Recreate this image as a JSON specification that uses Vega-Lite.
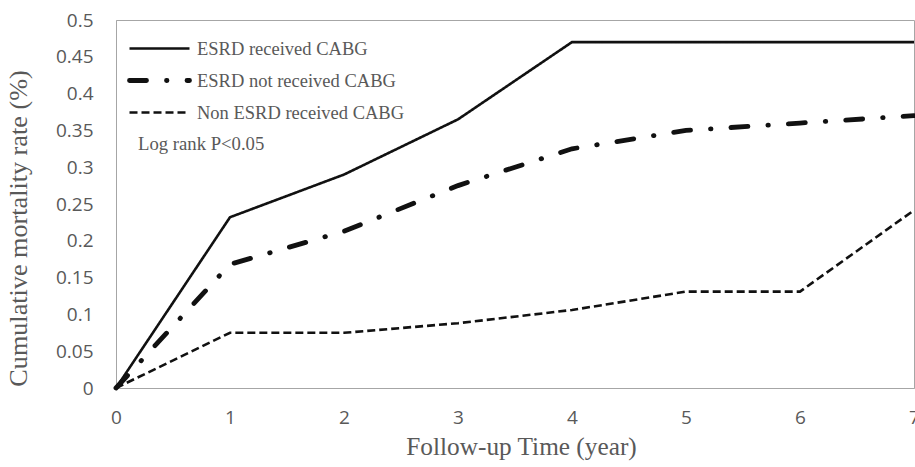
{
  "$schema": "https://vega.github.io/schema/vega-lite/v6.json",
  "width": 798,
  "height": 368,
  "autosize": "none",
  "padding": {"left": 116, "top": 20, "right": 1, "bottom": 79},
  "background": "white",
  "config": {
    "view": {"stroke": "#a6a6a6", "strokeWidth": 1}
  },
  "datasets": {
    "curves": [
      {"year": 0, "rate": 0, "group": "ESRD received CABG"},
      {"year": 1, "rate": 0.232, "group": "ESRD received CABG"},
      {"year": 2, "rate": 0.29, "group": "ESRD received CABG"},
      {"year": 3, "rate": 0.365, "group": "ESRD received CABG"},
      {"year": 4, "rate": 0.47, "group": "ESRD received CABG"},
      {"year": 5, "rate": 0.47, "group": "ESRD received CABG"},
      {"year": 6, "rate": 0.47, "group": "ESRD received CABG"},
      {"year": 7, "rate": 0.47, "group": "ESRD received CABG"},
      {"year": 0, "rate": 0, "group": "ESRD not received  CABG"},
      {"year": 1, "rate": 0.168, "group": "ESRD not received  CABG"},
      {"year": 2, "rate": 0.213, "group": "ESRD not received  CABG"},
      {"year": 3, "rate": 0.275, "group": "ESRD not received  CABG"},
      {"year": 4, "rate": 0.325, "group": "ESRD not received  CABG"},
      {"year": 5, "rate": 0.35, "group": "ESRD not received  CABG"},
      {"year": 6, "rate": 0.36, "group": "ESRD not received  CABG"},
      {"year": 7, "rate": 0.37, "group": "ESRD not received  CABG"},
      {"year": 0, "rate": 0, "group": "Non ESRD received CABG"},
      {"year": 1, "rate": 0.075, "group": "Non ESRD received CABG"},
      {"year": 2, "rate": 0.075, "group": "Non ESRD received CABG"},
      {"year": 3, "rate": 0.088, "group": "Non ESRD received CABG"},
      {"year": 4, "rate": 0.106, "group": "Non ESRD received CABG"},
      {"year": 5, "rate": 0.131, "group": "Non ESRD received CABG"},
      {"year": 6, "rate": 0.131, "group": "Non ESRD received CABG"},
      {"year": 7, "rate": 0.2415, "group": "Non ESRD received CABG"}
    ],
    "note": [{"year": 0.193, "rate": 0.3234, "label": "Log rank P<0.05"}]
  },
  "encoding": {
    "x": {"field": "year", "type": "quantitative", "scale": {"domain": [0, 7], "nice": false},
      "axis": {"values": [0,1,2,3,4,5,6,7], "title": "Follow-up Time (year)", "format": "d", "grid": false, "ticks": false, "domainColor": "#a6a6a6", "labelColor": "#595959", "labelFont": "Open Sans", "labelFontSize": 19, "labelPadding": 20, "labelOverlap": false, "labelFlush": false, "titleColor": "#595959", "titleFont": "Liberation Serif", "titleFontSize": 25.3, "titleFontWeight": "normal", "titleX": 405, "titleY": 66, "titleBaseline": "alphabetic", "titleAlign": "center"}},
    "y": {"field": "rate", "type": "quantitative", "scale": {"domain": [0, 0.5], "nice": false},
      "axis": {"values": [0,0.05,0.1,0.15,0.2,0.25,0.3,0.35,0.4,0.45,0.5], "format": ".2~f", "title": "Cumulative mortality rate (%)", "grid": false, "ticks": false, "domainColor": "#a6a6a6", "labelColor": "#595959", "labelFont": "Open Sans", "labelFontSize": 19, "labelPadding": 23, "labelOverlap": false, "labelFlush": false, "titleColor": "#595959", "titleFont": "Liberation Serif", "titleFontSize": 26.2, "titleFontWeight": "normal", "titleX": -98, "titleY": 208, "titleBaseline": "middle", "titleAlign": "center", "titleAngle": -90}}
  },
  "layer": [
    {
      "data": {"name": "curves"},
      "transform": [{"filter": "datum.group !== 'ESRD not received  CABG'"}],
      "mark": {"type": "line", "strokeCap": "butt"},
      "encoding": {
        "color": {"field": "group", "type": "nominal",
          "scale": {"domain": ["ESRD received CABG", "ESRD not received  CABG", "Non ESRD received CABG"], "range": ["#111111", "#111111", "#111111"]},
          "legend": {"title": null, "orient": "none", "legendX": 31, "legendY": 17, "symbolType": "M-3,0H3", "symbolSize": 400, "labelFont": "Liberation Serif", "labelFontSize": 18.5, "labelColor": "#595959", "labelOffset": 25, "rowPadding": 10, "labelLimit": 400,
            "encode": {"symbols": {"update": {"strokeCap": {"signal": "datum.value === 'ESRD not received  CABG' ? 'round' : 'butt'"}}}}}},
        "strokeDash": {"field": "group", "type": "nominal",
          "scale": {"domain": ["ESRD received CABG", "ESRD not received  CABG", "Non ESRD received CABG"], "range": [[1, 0], [17, 20, 0.5, 20], [8, 4]]}},
        "strokeWidth": {"field": "group", "type": "nominal",
          "scale": {"type": "ordinal", "domain": ["ESRD received CABG", "ESRD not received  CABG", "Non ESRD received CABG"], "range": [2.6, 4.8, 2.6]}}
      }
    },
    {
      "data": {"name": "curves"},
      "transform": [{"filter": "datum.group === 'ESRD not received  CABG'"}],
      "mark": {"type": "line", "strokeCap": "round", "strokeWidth": 4.8, "strokeDash": [17, 20, 0.5, 20], "color": "#111111"},
      "encoding": {}
    },
    {
      "data": {"name": "note"},
      "mark": {"type": "text", "align": "left", "baseline": "alphabetic", "font": "Liberation Serif", "fontSize": 18.7, "color": "#595959"},
      "encoding": {
        "text": {"field": "label"}
      }
    }
  ]
}
